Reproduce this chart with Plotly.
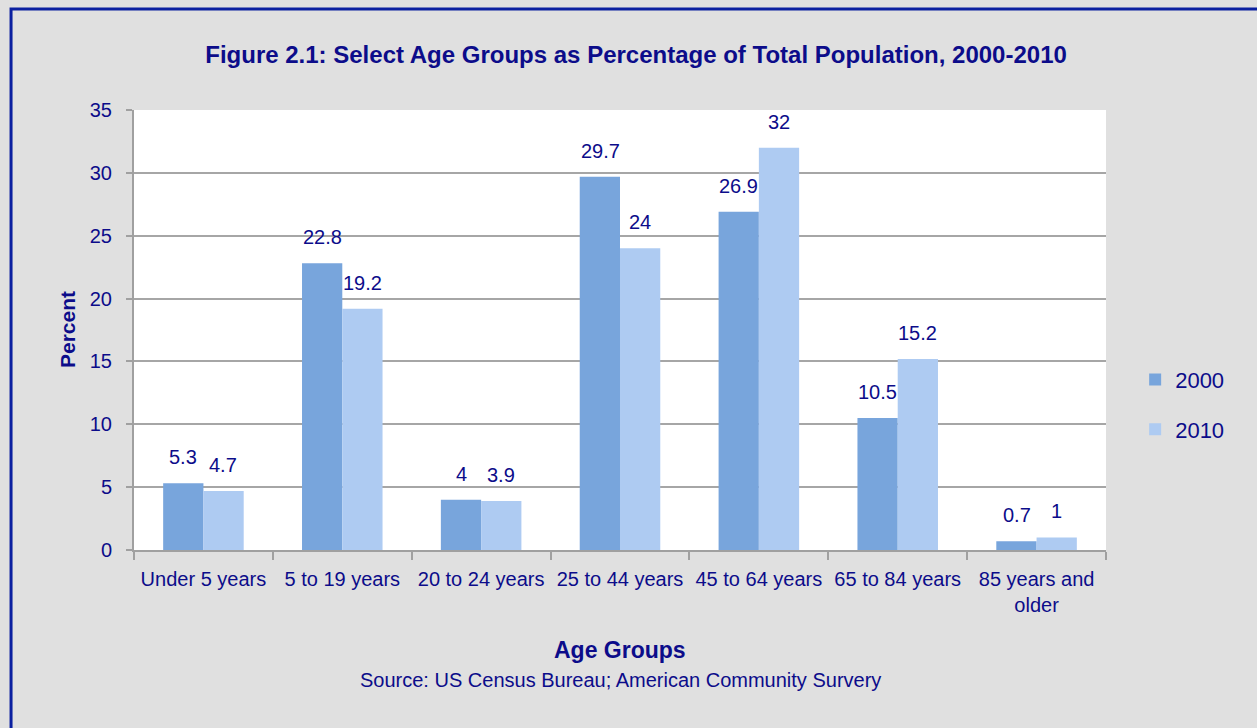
import plotly.graph_objects as go

categories = ["Under 5 years", "5 to 19 years", "20 to 24 years", "25 to 44 years",
              "45 to 64 years", "65 to 84 years", "85 years and<br>older"]
values_2000 = [5.3, 22.8, 4, 29.7, 26.9, 10.5, 0.7]
values_2010 = [4.7, 19.2, 3.9, 24, 32, 15.2, 1]
y_ticks = [0, 5, 10, 15, 20, 25, 30, 35]

NAVY = "#0c0c8a"
FONT = "Liberation Sans, Arial, sans-serif"

fig = go.Figure()
fig.add_trace(go.Bar(
    x=categories, y=values_2000, name="2000", legendgroup="a",
    marker=dict(color="#78a5dc", line=dict(width=0)),
))
fig.add_trace(go.Bar(
    x=categories, y=values_2010, name="2010", legendgroup="b",
    marker=dict(color="#aecbf2", line=dict(width=0)),
))

annotations = []
for cat, v in zip(categories, values_2000):
    annotations.append(dict(x=cat, y=v, xref="x", yref="y", text=f"{v:g}", showarrow=False,
                            xshift=-20, yshift=26, yanchor="middle",
                            font=dict(size=20, color=NAVY)))
for cat, v in zip(categories, values_2010):
    annotations.append(dict(x=cat, y=v, xref="x", yref="y", text=f"{v:g}", showarrow=False,
                            xshift=20, yshift=26, yanchor="middle",
                            font=dict(size=20, color=NAVY)))
annotations += [
    dict(text="<b>Age Groups</b>", xref="paper", yref="paper", x=0.5, y=-0.227,
         yanchor="middle", showarrow=False, font=dict(size=23, color=NAVY)),
    dict(text="<b>Percent</b>", xref="paper", yref="paper", x=-0.0689, y=0.5,
         xanchor="center", yanchor="middle", textangle=-90, showarrow=False,
         font=dict(size=21, color=NAVY)),
    dict(text="Source: US Census Bureau; American Community Survery",
         xref="paper", yref="paper", x=0.5, y=-0.296, yanchor="middle",
         showarrow=False, font=dict(size=20, color=NAVY)),
]

fig.update_layout(
    width=1257, height=728,
    margin=dict(l=134, r=151, t=110, b=178),
    paper_bgcolor="#e0e0e0", plot_bgcolor="white",
    font=dict(family=FONT, color=NAVY, size=20),
    barmode="group", bargap=0.42, bargroupgap=0,
    title=dict(text="<b>Figure 2.1: Select Age Groups as Percentage of Total Population, 2000-2010</b>",
               x=0.506, xanchor="center", y=0.925, yanchor="middle",
               font=dict(size=24, color=NAVY, family=FONT)),
    xaxis=dict(
        tickson="boundaries", ticks="outside", ticklen=8, tickwidth=2, tickcolor="#a0a0a0",
        showline=True, linecolor="#a0a0a0", linewidth=2,
        tickfont=dict(size=20), automargin=False, ticklabelstandoff=10,
    ),
    yaxis=dict(
        range=[0, 35], tickvals=y_ticks, ticks="outside", ticklen=6, tickwidth=2,
        tickcolor="#a0a0a0", showline=True, linecolor="#a0a0a0", linewidth=2,
        showgrid=True, gridcolor="#a6a6a6", gridwidth=2, zeroline=False,
        tickfont=dict(size=20), automargin=False, ticklabelstandoff=10,
    ),
    legend=dict(x=1.03, xanchor="left", y=0.33, yanchor="middle",
                traceorder="grouped", tracegroupgap=18,
                font=dict(size=22, color=NAVY), bgcolor="rgba(0,0,0,0)"),
    annotations=annotations,
    shapes=[dict(type="rect", xref="paper", yref="paper",
                 x0=-0.1265, x1=1.3, y0=-0.5, y1=1.2295,
                 line=dict(color="#0b20a0", width=3), layer="below")],
)

fig.write_html("out.html")
